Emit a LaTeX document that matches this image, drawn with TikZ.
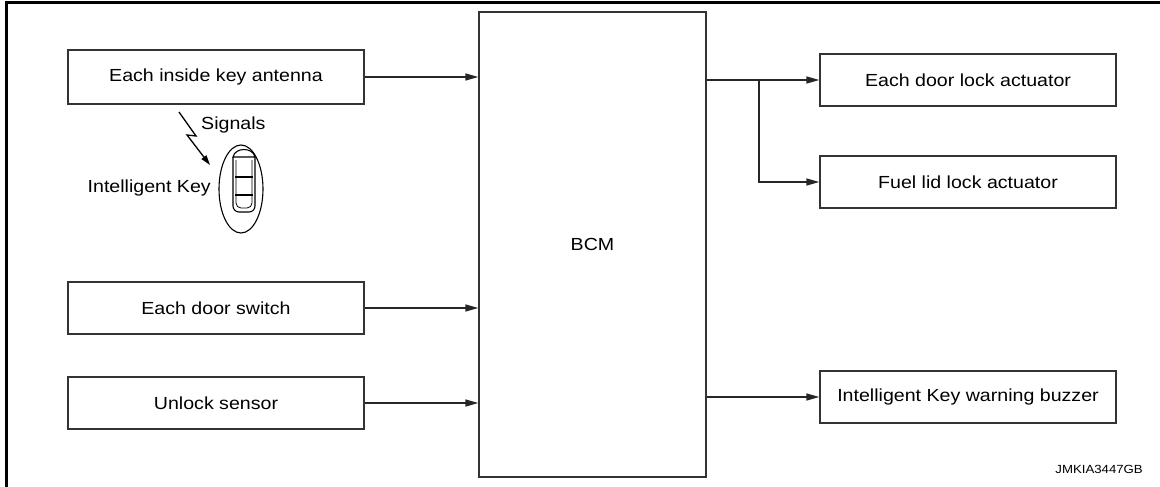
\documentclass[tikz,border=0pt]{standalone}
\usepackage{fontspec}
\setmainfont{Liberation Sans}[FakeStretch=1.12]
\usetikzlibrary{arrows.meta}
\begin{document}
\begin{tikzpicture}[x=1pt,y=-1pt,
  box/.style={draw=black!80, line width=1.3pt, minimum width=296pt, minimum height=52pt, inner sep=0pt, font=\fontsize{17.5}{20}\selectfont},
  conn/.style={line width=1.3pt, draw=black!85, -{Triangle[length=13pt,width=7pt]}},
  lbl/.style={font=\fontsize{17.5}{20}\selectfont, inner sep=0pt},
  fob/.style={line width=1.1pt, draw=black}]
\useasboundingbox (0,0) rectangle (1160,487);
\draw[line width=3pt] (6.5,487) -- (6.5,2.5) -- (1160,2.5);
% left
\node[box, minimum height=54pt] (ant) at (216,77) {Each inside key antenna};
\node[box] (dsw) at (216,308) {Each door switch};
\node[box] (uls) at (216,403) {Unlock sensor};
% BCM
\node[draw=black!80, line width=1.3pt, minimum width=227pt, minimum height=465pt, inner sep=0pt, font=\fontsize{17.5}{20}\selectfont] (bcm) at (592.5,244.5) {BCM};
% right
\node[box] (lock) at (968,80) {Each door lock actuator};
\node[box] (fuel) at (968,182) {Fuel lid lock actuator};
\node[box] (buz) at (968,397) {Intelligent Key warning buzzer};
% connectors
\draw[conn] (ant.east) -- (ant.east -| bcm.west);
\draw[conn] (dsw.east) -- (dsw.east -| bcm.west);
\draw[conn] (uls.east) -- (uls.east -| bcm.west);
\draw[conn] (lock.west -| bcm.east) -- (lock.west);
\coordinate (br) at (759,80);
\draw[conn] (br) |- (fuel.west);
\draw[conn] (buz.west -| bcm.east) -- (buz.west);
% key fob
\draw[fob] (241,189) ellipse [x radius=22, y radius=44];
\draw[fob, rounded corners=6pt] (255,157) -- (255,212) -- (233,212) -- (233,157);
\draw[fob] (233,157) .. controls (235,147) and (253,147) .. (255,157) -- cycle;
\draw[line width=0.8pt, rounded corners=5pt] (252,160) -- (252,208) -- (236,208) -- (236,160);
\draw[line width=2pt] (235,177) -- (253,177);
\draw[line width=2pt] (235,195) -- (253,195);
% lightning
\coordinate (l0) at (179,112);
\coordinate (l1) at (196,136);
\coordinate (l2) at (187,135);
\coordinate (l3) at (210,165);
\draw[line width=1.3pt, -{Triangle[length=10pt,width=6pt]}] (l0) -- (l1) -- (l2) -- (l3);
\node[lbl, anchor=west] (sig) at (201,125) {Signals};
\node[lbl, anchor=east] (ik) at (211,188) {Intelligent Key};
\node[font=\fontsize{11.8}{13}\selectfont, anchor=east, inner sep=0pt] (code) at (1143,469) {JMKIA3447GB};
\end{tikzpicture}
\end{document}
